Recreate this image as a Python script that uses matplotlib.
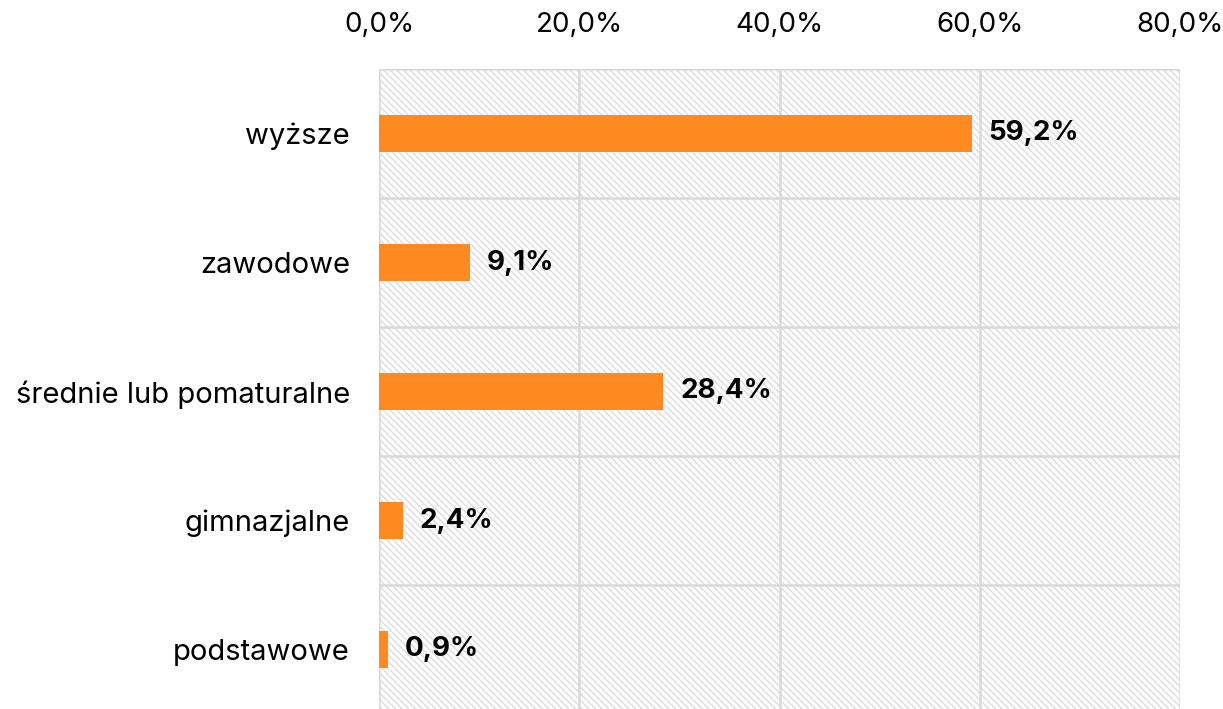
import matplotlib.pyplot as plt
from matplotlib.patches import Rectangle
from matplotlib.ticker import FuncFormatter

categories = ["wyższe", "zawodowe", "średnie lub pomaturalne", "gimnazjalne", "podstawowe"]
values = [59.2, 9.1, 28.4, 2.4, 0.9]
ticks = [0, 20, 40, 60, 80]

plt.rcParams['font.family'] = ['Inter', 'DejaVu Sans']
plt.rcParams['hatch.linewidth'] = 1.0
plt.rcParams['hatch.color'] = '#DCDCDC'

fig = plt.figure(figsize=(12.23, 7.09), dpi=100)
ax = fig.add_axes([379 / 1223, -5 / 709, 801 / 1223, 645 / 709])

# hatched background
ax.add_patch(Rectangle((0, 0), 1, 1, transform=ax.transAxes, facecolor='white',
                       edgecolor='#DCDCDC', hatch='\\\\\\\\\\', linewidth=0, zorder=0))

y = list(range(len(categories)))
ax.barh(y, values, height=0.28, color='#FF8A22', zorder=3)

for yi, v in zip(y, values):
    ax.annotate(f"{v:.1f}%".replace('.', ','), (v, yi), xytext=(12, 0),
                textcoords='offset points', va='center', ha='left',
                fontsize=20, fontweight='bold', color='black', zorder=4)

ax.set_xlim(0, 80)
ax.set_ylim(len(categories) - 0.5, -0.5)
ax.set_xticks(ticks)
ax.xaxis.set_major_formatter(FuncFormatter(lambda x, p: f"{x:.1f}%".replace('.', ',')))
ax.xaxis.tick_top()
ax.set_yticks(y)
ax.set_yticklabels(categories)
ax.tick_params(axis='x', length=0, pad=22, labelsize=20)
ax.tick_params(axis='y', length=0, pad=21, labelsize=21)

for xv in ticks:
    ax.axvline(xv, color='#D9D9D9', linewidth=1.8, zorder=1)
for b in [k - 0.5 for k in range(len(categories) + 1)]:
    ax.axhline(b, color='#D9D9D9', linewidth=1.8, zorder=1)

for s in ax.spines.values():
    s.set_visible(False)

fig.savefig('out.png', dpi=100)
